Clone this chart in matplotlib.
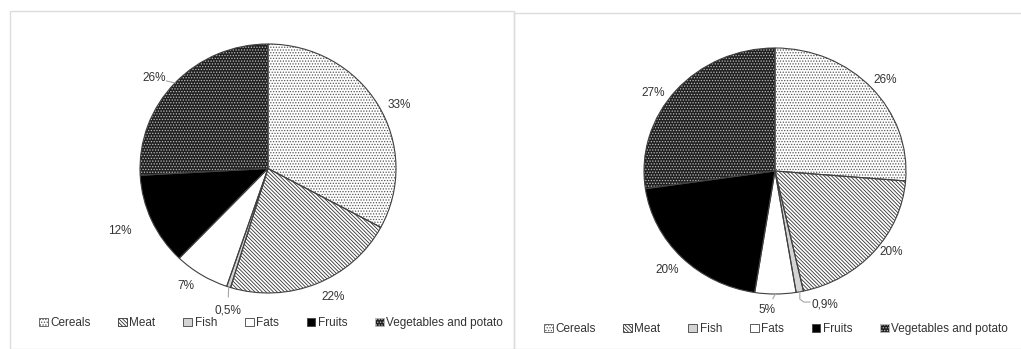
import numpy as np
import matplotlib.pyplot as plt
from matplotlib.patches import Rectangle, Patch

plt.rcParams['font.family'] = ['Liberation Sans', 'DejaVu Sans']
plt.rcParams['hatch.linewidth'] = 0.6

categories = ['Cereals', 'Meat', 'Fish', 'Fats', 'Fruits', 'Vegetables and potato']
share_left = [33, 22, 0.5, 7, 12, 26]
share_right = [26, 20, 0.9, 5, 20, 27]

# fill, hatch, hatch colour for each food group
faces = ['white', 'white', '#d4d4d4', 'white', 'black', '#202020']
hatches = ['......', '\\' * 9, '', '', '', '......']
hatch_cols = ['#555555', '#333333', '#d4d4d4', 'white', 'black', '#bbbbbb']

W, H = 1021, 349
fig = plt.figure(figsize=(W / 100, H / 100), dpi=100)

# light frames round the two panels
fig.patches.append(Rectangle((10 / W, 0), 504 / W, 338 / H, transform=fig.transFigure,
                             fill=False, ec='#dcdcdc', lw=1))
fig.patches.append(Rectangle((514 / W, 0), 510 / W, 336 / H, transform=fig.transFigure,
                             fill=False, ec='#dcdcdc', lw=1))

LIM = 1.4


def fmt(v):
    return ('%g' % v).replace('.', ',') + '%'


def draw_pie(cx, cy, rx, ry, values, lab_r, lab_shift, leaders):
    wpx, hpx = 2 * LIM * rx, 2 * LIM * ry
    ax = fig.add_axes([(cx - wpx / 2) / W, (H - cy - hpx / 2) / H, wpx / W, hpx / H])
    wedges, _ = ax.pie(values, startangle=90, counterclock=False, radius=1,
                       wedgeprops=dict(lw=0))
    for w, fc, h, hc in zip(wedges, faces, hatches, hatch_cols):
        w.set_facecolor(fc)
        w.set_hatch(h)
        w.set_edgecolor(hc)
    # outlines drawn on top so the hatch colour doesn't tint them
    ax.pie(values, startangle=90, counterclock=False, radius=1,
           wedgeprops=dict(fill=False, ec='#404040', lw=0.8))
    ax.set_aspect('auto')
    ax.set_xlim(-LIM, LIM)
    ax.set_ylim(-LIM, LIM)
    ax.axis('off')
    for w, v, d, sh, ld in zip(wedges, values, lab_r, lab_shift, leaders):
        mid = np.deg2rad((w.theta1 + w.theta2) / 2)
        ang = mid + np.deg2rad(sh)
        x, y = d * np.cos(ang), d * np.sin(ang)
        ax.text(x, y, fmt(v), ha='center', va='center', fontsize=8.5, color='#333333')
        ex, ey = np.cos(mid), np.sin(mid)
        if ld == 'line':
            # stop the leader just short of the label text
            vx, vy = (x - ex) * rx, (y - ey) * ry
            n = np.hypot(vx, vy)
            k = max(n - 13, 0) / n
            ax.plot([ex, ex + (x - ex) * k], [ey, ey + (y - ey) * k],
                    color='#a6a6a6', lw=0.8)
        elif ld == 'elbow':
            yk = y + 2 / ry
            xk = x - 15 / rx
            ax.plot([ex, ex, ex + 4 / rx, xk], [ey, yk + 3 / ry, yk, yk],
                    color='#a6a6a6', lw=0.8)
    return ax


draw_pie(268, 168.5, 128, 124.5, share_left,
         [1.143, 1.15, 1.179, 1.141, 1.26, 1.15],
         [-4.4, 3.8, 2.5, -2.9, -1.1, 4.3],
         [None, None, 'line', None, None, 'line'])
draw_pie(775, 171, 131, 123, share_right,
         [1.119, 1.104, 1.147, 1.132, 1.152, 1.127],
         [-1.3, 4.3, 8.5, -3.4, -0.5, 6.5],
         [None, None, 'elbow', 'line', None, None])


def legend_handles():
    return [Patch(facecolor=fc, hatch=h, edgecolor=hc if h else '#404040', lw=0.6)
            for fc, h, hc in zip(faces, hatches, hatch_cols)]


for x0, y in [(271, 323), (776, 329)]:
    fig.legend(legend_handles(), categories, loc='center', ncol=6, frameon=False,
               bbox_to_anchor=(x0 / W, 1 - y / H), fontsize=8.5, handlelength=0.75,
               handleheight=0.75, handletextpad=0.2, columnspacing=2.35,
               labelcolor='#333333')

fig.savefig('out.png', dpi=100)
